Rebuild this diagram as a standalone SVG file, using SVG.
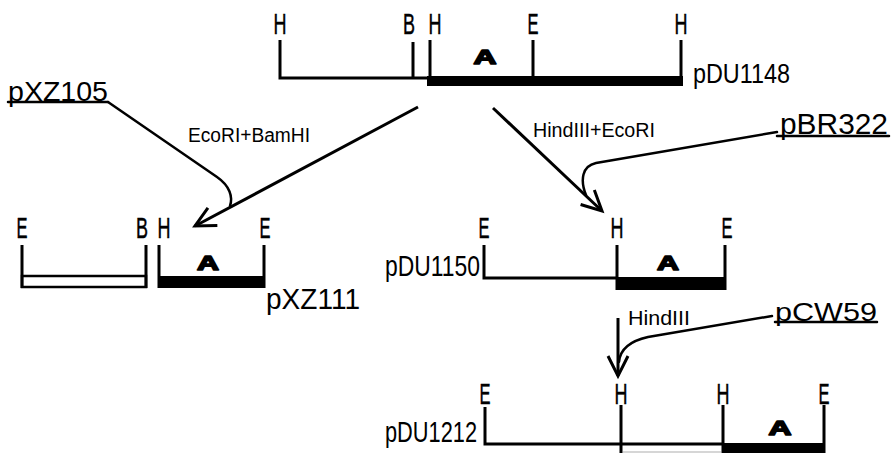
<svg xmlns="http://www.w3.org/2000/svg" width="891" height="453" viewBox="0 0 891 453">
<style>
.t{font-family:"Liberation Sans",Arial,sans-serif;fill:#000}
.s{font-size:30px;text-anchor:middle;stroke:#000;stroke-width:0.5}
.n{font-size:29px}
.e{font-size:20px}
.a{font-family:"Liberation Sans",Arial,sans-serif;font-weight:bold;font-size:21px;text-anchor:middle;fill:#000;stroke:#000;stroke-width:1.6;stroke-linejoin:round}
.l{fill:none;stroke:#000;stroke-width:3}
.c{fill:none;stroke:#000;stroke-width:2.5;stroke-linecap:round}
</style>
<defs>
<marker id="ah" markerUnits="userSpaceOnUse" viewBox="-24 -14 28 28" refX="0" refY="0" markerWidth="28" markerHeight="28" orient="auto" overflow="visible">
<path d="M-20,-10 L0,0 L-20,10" fill="none" stroke="#000" stroke-width="3"/>
</marker>
</defs>
<rect width="891" height="453" fill="#fff"/>

<g id="pDU1148">
<path class="l" d="M280,40 V78 H428"/>
<rect x="427" y="76" width="256" height="10" fill="#000"/>
<path class="l" d="M413,42 V77 M430,40 V80 M533,40 V80 M681,40 V86"/>
<text class="t s" x="280" y="34" textLength="13" lengthAdjust="spacingAndGlyphs">H</text>
<text class="t s" x="409" y="34" textLength="12" lengthAdjust="spacingAndGlyphs">B</text>
<text class="t s" x="435" y="34" textLength="13" lengthAdjust="spacingAndGlyphs">H</text>
<text class="t s" x="533" y="34" textLength="11" lengthAdjust="spacingAndGlyphs">E</text>
<text class="t s" x="681" y="34" textLength="13" lengthAdjust="spacingAndGlyphs">H</text>
<text class="a" x="485" y="64" textLength="23" lengthAdjust="spacingAndGlyphs">A</text>
<text class="t" font-size="28" x="693" y="83" textLength="97" lengthAdjust="spacingAndGlyphs">pDU1148</text>
</g>

<g id="pXZ111">
<rect x="22" y="276" width="124" height="11" fill="#fff" stroke="#000" stroke-width="2.5"/>
<path class="l" d="M22,245 V288 M146,245 V288 M159,245 V288 M264,245 V288"/>
<rect x="158" y="276" width="107" height="12" fill="#000"/>
<text class="t s" x="22" y="238" textLength="11" lengthAdjust="spacingAndGlyphs">E</text>
<text class="t s" x="142" y="238" textLength="12" lengthAdjust="spacingAndGlyphs">B</text>
<text class="t s" x="164" y="238" textLength="13" lengthAdjust="spacingAndGlyphs">H</text>
<text class="t s" x="265" y="238" textLength="11" lengthAdjust="spacingAndGlyphs">E</text>
<text class="a" x="208" y="270" textLength="22" lengthAdjust="spacingAndGlyphs">A</text>
<text class="t n" x="266" y="309" textLength="94" lengthAdjust="spacingAndGlyphs">pXZ111</text>
</g>

<g id="pDU1150">
<path class="l" d="M484,245 V278 H618"/>
<rect x="617" y="277" width="109" height="13" fill="#000"/>
<path class="l" d="M617,245 V290 M725,245 V290"/>
<text class="t s" x="484" y="238" textLength="11" lengthAdjust="spacingAndGlyphs">E</text>
<text class="t s" x="617" y="238" textLength="13" lengthAdjust="spacingAndGlyphs">H</text>
<text class="t s" x="727" y="238" textLength="11" lengthAdjust="spacingAndGlyphs">E</text>
<text class="a" x="668" y="270" textLength="22" lengthAdjust="spacingAndGlyphs">A</text>
<text class="t" font-size="30" x="385" y="276" textLength="95" lengthAdjust="spacingAndGlyphs">pDU1150</text>
</g>

<g id="pDU1212">
<path class="l" d="M485,407 V444 H724"/>
<path d="M623,452 H721" stroke="#c8c8c8" stroke-width="1.5" fill="none"/>
<rect x="723" y="443" width="101" height="12" fill="#000"/>
<path class="l" d="M621,405 V453 M723,405 V453 M824,405 V453"/>
<text class="t s" x="485" y="404" textLength="11" lengthAdjust="spacingAndGlyphs">E</text>
<text class="t s" x="621" y="404" textLength="13" lengthAdjust="spacingAndGlyphs">H</text>
<text class="t s" x="723" y="404" textLength="13" lengthAdjust="spacingAndGlyphs">H</text>
<text class="t s" x="824" y="404" textLength="11" lengthAdjust="spacingAndGlyphs">E</text>
<text class="a" x="780" y="435" textLength="23" lengthAdjust="spacingAndGlyphs">A</text>
<text class="t" font-size="30" x="385" y="442" textLength="92" lengthAdjust="spacingAndGlyphs">pDU1212</text>
</g>

<g id="pXZ105">
<text class="t" font-size="28" x="8" y="101" textLength="100" lengthAdjust="spacingAndGlyphs">pXZ105</text>
<path class="c" d="M8,102 H108"/>
</g>

<g id="pBR322">
<text class="t" font-size="30" x="780" y="134" textLength="108" lengthAdjust="spacingAndGlyphs">pBR322</text>
<path class="c" d="M777,136 H889"/>
</g>

<g id="pCW59">
<text class="t" font-size="26" x="775" y="321" textLength="102" lengthAdjust="spacingAndGlyphs">pCW59</text>
<path class="c" d="M775,322 H877"/>
</g>

<g id="connectors">
<path class="l" d="M418,107 L195,226" marker-end="url(#ah)"/>
<path class="l" d="M493,108 L602,211" marker-end="url(#ah)"/>
<path class="l" d="M618,318 L618,376" marker-end="url(#ah)"/>
<path class="c" d="M108,102 L217,177 C230,186 233,197 230,206"/>
<path class="c" d="M777,132 L596,163 C582,166 580,180 586,195"/>
<path class="c" d="M772,316 L648,337 C630,341 620,350 619,362"/>
<text class="t e" font-size="21" x="188" y="142" textLength="122" lengthAdjust="spacingAndGlyphs">EcoRI+BamHI</text>
<text class="t e" x="533" y="137" textLength="122" lengthAdjust="spacingAndGlyphs">HindIII+EcoRI</text>
<text class="t e" x="628" y="325" textLength="62" lengthAdjust="spacingAndGlyphs">HindIII</text>
</g>
</svg>
